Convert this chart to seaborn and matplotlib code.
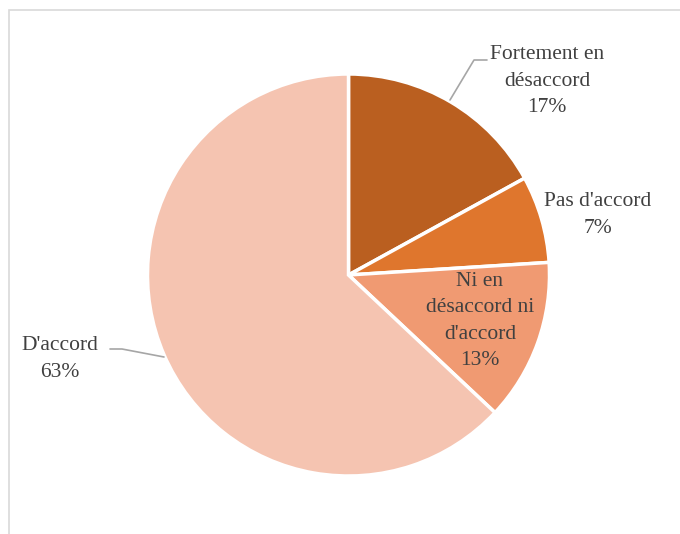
import matplotlib
matplotlib.use("Agg")
import matplotlib.pyplot as plt
import seaborn as sns
from matplotlib.patches import Rectangle

categories = ["Fortement en\ndésaccord", "Pas d'accord", "Ni en\ndésaccord ni\nd'accord", "D'accord"]
values = [17, 7, 13, 63]
pct_labels = ["17%", "7%", "13%", "63%"]
colors = ["#BA5F20", "#DF762D", "#F09A72", "#F5C4B1"]

sns.set_theme(style="white")
plt.rcParams["font.family"] = ["Liberation Serif", "DejaVu Serif"]

W, H = 680, 534
fig = plt.figure(figsize=(W / 100, H / 100), dpi=100)
ax = fig.add_axes([0, 0, 1, 1])

def Y(y):
    return H - y

ax.pie(values, colors=colors, startangle=90, counterclock=False,
       center=(348.5, Y(275)), radius=201,
       wedgeprops=dict(edgecolor="white", linewidth=2.5))

ax.set_xlim(0, W)
ax.set_ylim(0, H)
ax.set_aspect("equal")
ax.axis("off")

# frame
ax.add_patch(Rectangle((9, Y(600)), 700, 600 - 10, fill=False, edgecolor="#D9D9D9", linewidth=1.2))

txt = dict(color="#404040", fontsize=15.5, ha="center", va="center", linespacing=1.52)
ax.text(547, Y(81), categories[0] + "\n" + pct_labels[0], **txt)
ax.text(598, Y(215), categories[1] + "\n" + pct_labels[1], **txt)
ax.text(480, Y(321), categories[2] + "\n" + pct_labels[2], **txt)
ax.text(60, Y(359), categories[3] + "\n" + pct_labels[3], **txt)

# leader lines
ax.plot([450, 474, 487], [Y(100), Y(60), Y(60)], color="#A6A6A6", linewidth=1.2)
ax.plot([110, 122, 164], [Y(349), Y(349), Y(357)], color="#A6A6A6", linewidth=1.2)

fig.savefig("out.png", dpi=100, facecolor="white")
